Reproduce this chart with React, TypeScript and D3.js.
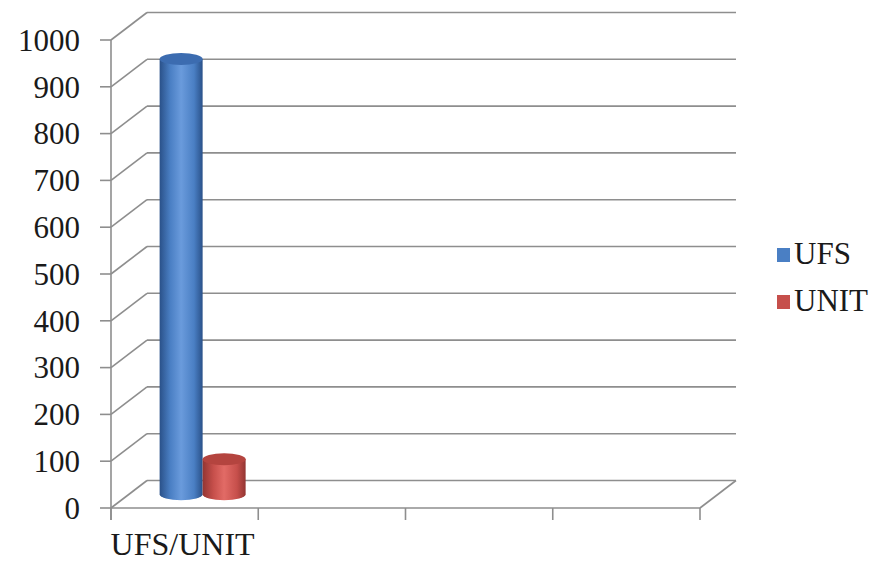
import React, { useEffect, useRef } from 'react';
import * as d3 from 'd3';

// chart values
const categories = ['UFS/UNIT', '', '', ''];
const seriesNames = ['UFS', 'UNIT'];
const seriesValues = [[930], [75]];
const seriesColors = [
  { dark: '#2a5189', mid: '#4a7fc4', light: '#6a9bdc', top: '#3c6cb0' },
  { dark: '#933532', mid: '#c64f4b', light: '#e26b66', top: '#b4443f' },
];
const yTicks = [0, 100, 200, 300, 400, 500, 600, 700, 800, 900, 1000];

const W = 882;
const H = 561;
const font = 'Liberation Serif';

export default function App() {
  const ref = useRef<SVGSVGElement>(null);

  useEffect(() => {
    const svg = d3.select(ref.current);
    svg.selectAll('*').remove();

    const x0 = 111, x1 = 700;
    const yBottom = 508, yTop = 40;
    const depthX = 36, depthY = -27.5;
    const grid = '#8e8e8e';

    const x = d3.scaleBand<number>()
      .domain(categories.map((_, i) => i))
      .range([x0, x1])
      .paddingInner(0)
      .paddingOuter(0);

    const y = d3.scaleLinear().domain([0, 1000]).range([yBottom, yTop]);

    // gradients for the cylinders
    const defs = svg.append('defs');
    seriesColors.forEach((c, i) => {
      const g = defs.append('linearGradient')
        .attr('id', 'cyl' + i)
        .attr('x1', '0%').attr('x2', '100%').attr('y1', '0%').attr('y2', '0%');
      g.append('stop').attr('offset', '0%').attr('stop-color', c.dark);
      g.append('stop').attr('offset', '25%').attr('stop-color', c.mid);
      g.append('stop').attr('offset', '50%').attr('stop-color', c.light);
      g.append('stop').attr('offset', '80%').attr('stop-color', c.mid);
      g.append('stop').attr('offset', '100%').attr('stop-color', c.dark);
    });

    const lines = svg.append('g')
      .attr('fill', 'none')
      .attr('stroke', grid)
      .attr('stroke-width', 1.6);

    // back wall + side wall gridlines
    yTicks.forEach(t => {
      const yy = y(t);
      lines.append('line')
        .attr('x1', x0 + depthX).attr('x2', x1 + depthX)
        .attr('y1', yy + depthY).attr('y2', yy + depthY);
      lines.append('line')
        .attr('x1', x0).attr('x2', x0 + depthX)
        .attr('y1', yy).attr('y2', yy + depthY);
      // y tick
      lines.append('line')
        .attr('x1', x0 - 11).attr('x2', x0)
        .attr('y1', yy).attr('y2', yy);
    });

    // floor
    lines.append('line')
      .attr('x1', x0).attr('x2', x1)
      .attr('y1', yBottom).attr('y2', yBottom);
    lines.append('line')
      .attr('x1', x1).attr('x2', x1 + depthX)
      .attr('y1', yBottom).attr('y2', yBottom + depthY);

    // y axis line
    lines.append('line')
      .attr('x1', x0).attr('x2', x0)
      .attr('y1', yTop).attr('y2', yBottom + 12);

    // category ticks
    const bounds = categories.map((_, i) => x(i)!).concat([x1]);
    bounds.forEach(b => {
      lines.append('line')
        .attr('x1', b).attr('x2', b)
        .attr('y1', yBottom).attr('y2', yBottom + 12);
    });

    // y tick labels
    svg.append('g')
      .selectAll('text')
      .data(yTicks)
      .enter()
      .append('text')
      .attr('x', 80)
      .attr('y', d => y(d))
      .attr('dy', '0.35em')
      .attr('text-anchor', 'end')
      .style('font-family', font)
      .style('font-size', '31px')
      .attr('fill', '#1a1a1a')
      .text(d => d);

    // category labels
    svg.append('g')
      .selectAll('text')
      .data(categories)
      .enter()
      .append('text')
      .attr('x', (_, i) => x(i)! + x.bandwidth() / 2 - 2)
      .attr('y', 555)
      .attr('text-anchor', 'middle')
      .style('font-family', font)
      .style('font-size', '32px')
      .attr('fill', '#1a1a1a')
      .text(d => d);

    // cylinders, placed at mid depth
    const barW = 43;
    const ry = 6;
    const offX = depthX / 2, offY = depthY / 2;
    const nSeries = seriesNames.length;

    categories.forEach((_, ci) => {
      const center = x(ci)! + x.bandwidth() / 2 + offX;
      seriesValues.forEach((vals, si) => {
        const v = vals[ci];
        if (v === undefined) return;
        const left = center - (nSeries * barW) / 2 + si * barW;
        const rx = barW / 2;
        const cx = left + rx;
        const yb = y(0) + offY;
        const yt = y(v) + offY;
        const g = svg.append('g');
        g.append('path')
          .attr('d',
            `M${left},${yt} L${left},${yb} A${rx},${ry} 0 0 0 ${left + barW},${yb} L${left + barW},${yt} Z`)
          .attr('fill', `url(#cyl${si})`);
        g.append('ellipse')
          .attr('cx', cx).attr('cy', yt)
          .attr('rx', rx).attr('ry', ry)
          .attr('fill', seriesColors[si].top);
      });
    });

    // legend
    const legend = svg.append('g');
    seriesNames.forEach((name, i) => {
      const ly = 248 + i * 47;
      legend.append('rect')
        .attr('x', 777).attr('y', ly)
        .attr('width', 13).attr('height', 14)
        .attr('fill', seriesColors[i].mid);
      legend.append('text')
        .attr('x', 794).attr('y', ly + 16)
        .style('font-family', font)
        .style('font-size', '31px')
        .attr('fill', '#1a1a1a')
        .text(name);
    });
  }, []);

  return (
    <svg
      ref={ref}
      width={W}
      height={H}
      style={{ position: 'absolute', left: 0, top: 0, background: '#fff' }}
    />
  );
}
